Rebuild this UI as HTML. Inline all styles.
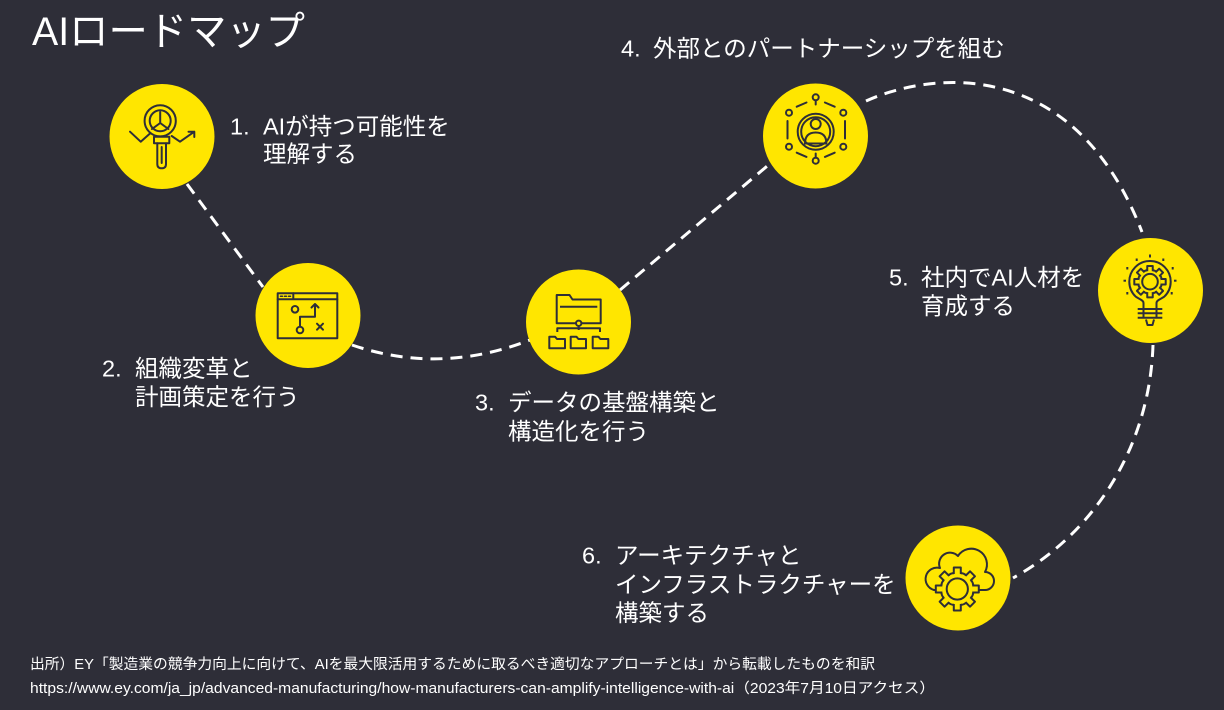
<!DOCTYPE html>
<html><head><meta charset="utf-8"><style>
html,body{margin:0;padding:0;background:#2e2e38;}
svg{display:block;}
text{font-family:"Liberation Sans","Noto Sans CJK JP",sans-serif;fill:#ffffff;}
</style></head><body>
<svg width="1224" height="710" viewBox="0 0 1224 710" xmlns="http://www.w3.org/2000/svg">
<rect width="1224" height="710" fill="#2e2e38"/>

<!-- connectors -->
<g fill="none" stroke="#ffffff" stroke-width="3" stroke-dasharray="12 8">
  <path d="M187,184 L263,287"/>
  <path d="M352,345 Q440,375 530,340"/>
  <path d="M620,290 L772,162"/>
  <path d="M866,101 C935,70 1075,58 1142,232"/>
  <path d="M1153,345 C1150,440 1100,530 1013,578"/>
</g>

<!-- circles -->
<g fill="#ffe600">
  <circle cx="162" cy="136.5" r="52.5"/>
  <circle cx="308" cy="315.5" r="52.5"/>
  <circle cx="578.5" cy="322" r="52.5"/>
  <circle cx="815.5" cy="136" r="52.5"/>
  <circle cx="1150.5" cy="290.5" r="52.5"/>
  <circle cx="958" cy="578" r="52.5"/>
</g>

<!-- icon 1 -->
<g fill="none" stroke="#2e2e38" stroke-width="2" stroke-linejoin="round" stroke-linecap="round">
  <circle cx="160.2" cy="120.8" r="15.6"/>
  <circle cx="160.2" cy="120.8" r="10.5"/>
  <path d="M160.2,112 V123 M160.2,123 L152,129 M160.2,123 L168.4,129"/>
  <rect x="154" y="136.7" width="15.3" height="6.6"/>
  <path d="M157.3,143.3 V164 Q157.3,168.3 161.7,168.3 Q166,168.3 166,164 V143.3"/>
  <path d="M161.7,147 V163"/>
  <path d="M130,131.7 L140.7,141.7 L150,133.5"/>
  <path d="M171.7,136 L180,141.7 L194.3,131.7 M188.5,131.7 H194.3 V137"/>
</g>

<!-- icon 2 -->
<g fill="none" stroke="#2e2e38" stroke-width="2" stroke-linejoin="round" stroke-linecap="round">
  <rect x="277.7" y="293.3" width="59.6" height="45"/>
  <path d="M277.7,299.3 H337.3 M293.3,293.3 V299.3"/>
  <path d="M280.5,296.3 H282.5 M284.5,296.3 H286.5 M288.5,296.3 H290.5" stroke-width="1.5"/>
  <circle cx="295" cy="309.3" r="3.3"/>
  <circle cx="300" cy="330" r="3.3"/>
  <path d="M300,326.7 V316.7 H315 V304 M311.5,307.5 L315,304 L318.5,307.5"/>
  <path d="M317,323.7 L323,329.7 M323,323.7 L317,329.7"/>
</g>

<!-- icon 3 -->
<g fill="none" stroke="#2e2e38" stroke-width="2" stroke-linejoin="round">
  <path d="M556.7,295 H569.5 L572.5,299.5 H600.7 V323.3 H556.7 Z"/>
  <path d="M560,306.7 H597.3"/>
  <circle cx="578.7" cy="323.3" r="2.7" fill="#ffe600"/>
  <path d="M578.7,326 V330 M557.3,332 V328.3 H600 V332"/>
  <path d="M549.3,336.7 H555 L557,339 H565 V348.3 H549.3 Z"/>
  <path d="M570.7,336.7 H576.4 L578.4,339 H586 V348.3 H570.7 Z"/>
  <path d="M592.7,336.7 H598.4 L600.4,339 H608.3 V348.3 H592.7 Z"/>
</g>

<!-- icon 4 -->
<g fill="none" stroke="#2e2e38" stroke-width="2" stroke-linecap="round">
  <circle cx="815.7" cy="131.7" r="18"/>
  <circle cx="815.7" cy="131.7" r="14.5"/>
  <circle cx="815.7" cy="124" r="5"/>
  <path d="M805,143.5 Q805,132.5 815.7,132.5 Q826.4,132.5 826.4,143.5 Z"/>
  <circle cx="815.7" cy="97.3" r="3"/>
  <circle cx="789" cy="112.7" r="3"/>
  <circle cx="843.3" cy="112.7" r="3"/>
  <circle cx="789" cy="146.7" r="3"/>
  <circle cx="843.3" cy="146.7" r="3"/>
  <circle cx="815.7" cy="160.7" r="3"/>
  <path d="M815.7,100.5 V104.5 M815.7,153.5 V157.5"/>
  <path d="M796.7,106.7 L806.5,102.5 M824.9,102.5 L834.7,106.7"/>
  <path d="M796.7,152.7 L806.5,156.9 M824.9,156.9 L834.7,152.7"/>
  <path d="M787.5,121 V138.5 M845,121 V138.5"/>
</g>

<!-- icon 5 : bulb with gear -->
<g fill="none" stroke="#2e2e38" stroke-width="2" stroke-linejoin="round">
  <path d="M1143.5,318 V303 C1143.5,300 1139,299 1135.8,296.7 A20.7,20.7 0 1 1 1164.2,296.7 C1161,299 1156.5,300 1156.5,303 V318"/>
  <path d="M1137.7,309 H1162.3 M1137.7,313.3 H1162.3 M1137.7,317.7 H1162.3"/>
  <path d="M1146,319.5 L1147.5,325 H1152.5 L1154,319.5"/>
  <circle cx="1150" cy="281.7" r="12" fill="#ffe600"/>
  <g transform="translate(1150,281.7)" fill="#ffe600">
    <rect x="-2.75" y="-15.7" width="5.5" height="6" transform="rotate(0)"/>
    <rect x="-2.75" y="-15.7" width="5.5" height="6" transform="rotate(45)"/>
    <rect x="-2.75" y="-15.7" width="5.5" height="6" transform="rotate(90)"/>
    <rect x="-2.75" y="-15.7" width="5.5" height="6" transform="rotate(135)"/>
    <rect x="-2.75" y="-15.7" width="5.5" height="6" transform="rotate(180)"/>
    <rect x="-2.75" y="-15.7" width="5.5" height="6" transform="rotate(225)"/>
    <rect x="-2.75" y="-15.7" width="5.5" height="6" transform="rotate(270)"/>
    <rect x="-2.75" y="-15.7" width="5.5" height="6" transform="rotate(315)"/>
  </g>
  <circle cx="1150" cy="281.7" r="10.8" fill="#ffe600" stroke="none"/>
  <circle cx="1150" cy="281.7" r="7.8"/>
</g>
<g fill="#2e2e38">
  <rect x="1149" y="254.5" width="2" height="3"/>
  <rect x="1135.7" y="258.5" width="2" height="2.5"/>
  <rect x="1162.3" y="258.5" width="2" height="2.5"/>
  <rect x="1126.3" y="267" width="2" height="2.5"/>
  <rect x="1171.7" y="267" width="2" height="2.5"/>
  <rect x="1123.5" y="279.7" width="2.5" height="2"/>
  <rect x="1174" y="279.7" width="2.5" height="2"/>
  <rect x="1126.3" y="292" width="2" height="2.5"/>
  <rect x="1170.7" y="292" width="2" height="2.5"/>
</g>

<!-- icon 6 : cloud with gear -->
<g fill="none" stroke="#2e2e38" stroke-width="2" stroke-linejoin="round">
  <path d="M934,590 A11,11 0 1 1 940,568 A11,11 0 0 1 958,556 A15.7,15.7 0 0 1 985,572 A9,9 0 0 1 985,590 Z"/>
  <circle cx="957.3" cy="589" r="16.5" fill="#ffe600"/>
  <g transform="translate(957.3,589)" fill="#ffe600">
    <rect x="-3.5" y="-21.5" width="7" height="7.5" transform="rotate(0)"/>
    <rect x="-3.5" y="-21.5" width="7" height="7.5" transform="rotate(45)"/>
    <rect x="-3.5" y="-21.5" width="7" height="7.5" transform="rotate(90)"/>
    <rect x="-3.5" y="-21.5" width="7" height="7.5" transform="rotate(135)"/>
    <rect x="-3.5" y="-21.5" width="7" height="7.5" transform="rotate(180)"/>
    <rect x="-3.5" y="-21.5" width="7" height="7.5" transform="rotate(225)"/>
    <rect x="-3.5" y="-21.5" width="7" height="7.5" transform="rotate(270)"/>
    <rect x="-3.5" y="-21.5" width="7" height="7.5" transform="rotate(315)"/>
  </g>
  <circle cx="957.3" cy="589" r="15.3" fill="#ffe600" stroke="none"/>
  <circle cx="957.3" cy="589" r="10.6"/>
</g>

<!-- title -->
<text x="32" y="45" font-size="40" textLength="273" lengthAdjust="spacingAndGlyphs">AIロードマップ</text>

<!-- labels -->
<g font-size="23.5">
  <text x="230" y="134.5">1.</text>
  <text x="263" y="134.5">AIが持つ可能性を</text>
  <text x="263" y="162">理解する</text>

  <text x="102" y="376.5">2.</text>
  <text x="135" y="376.5">組織変革と</text>
  <text x="135" y="405">計画策定を行う</text>

  <text x="475" y="410.5">3.</text>
  <text x="508" y="410.5">データの基盤構築と</text>
  <text x="508" y="439.5">構造化を行う</text>

  <text x="621" y="56.5">4.</text>
  <text x="653" y="56.5">外部とのパートナーシップを組む</text>

  <text x="889" y="285.5">5.</text>
  <text x="921" y="285.5">社内でAI人材を</text>
  <text x="921" y="314">育成する</text>

  <text x="582" y="563.5">6.</text>
  <text x="615" y="563.5">アーキテクチャと</text>
  <text x="615" y="592.5">インフラストラクチャーを</text>
  <text x="615" y="621">構築する</text>
</g>

<!-- footer -->
<text x="30" y="669" font-size="14.5" textLength="845" lengthAdjust="spacingAndGlyphs">出所）EY「製造業の競争力向上に向けて、AIを最大限活用するために取るべき適切なアプローチとは」から転載したものを和訳</text>
<text x="30" y="693" font-size="14.5" textLength="905" lengthAdjust="spacingAndGlyphs">https://www.ey.com/ja_jp/advanced-manufacturing/how-manufacturers-can-amplify-intelligence-with-ai（2023年7月10日アクセス）</text>
</svg>
</body></html>
